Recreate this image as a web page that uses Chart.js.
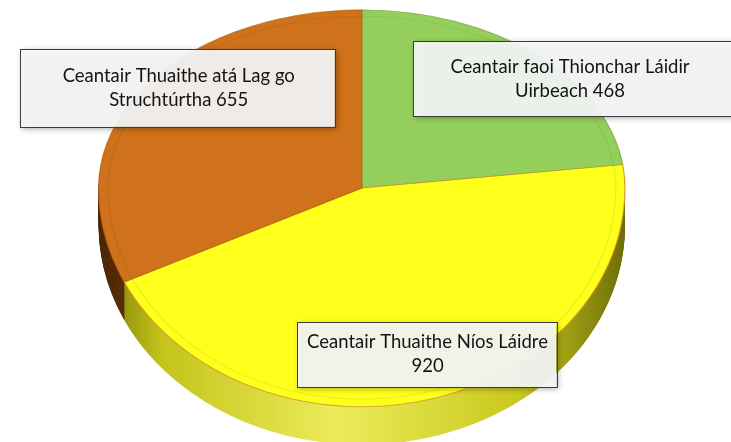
<!DOCTYPE html>
<html>
<head>
<meta charset="utf-8">
<script src="https://cdn.jsdelivr.net/npm/chart.js@4"></script>
<style>
  html, body { margin: 0; padding: 0; background: #fff; }
  #wrap { width: 731px; height: 442px; }
</style>
</head>
<body>
<div id="wrap"><canvas id="pieChart" width="731" height="442"></canvas></div>
<script>
// catagóirí agus luachanna (deiseal ón mbarr)
const categories = ['Ceantair faoi Thionchar Láidir Uirbeach', 'Ceantair Thuaithe Níos Láidre', 'Ceantair Thuaithe atá Lag go Struchtúrtha'];
const values = [468, 920, 655];
const topColors = ['#95cf5b', '#ffff1c', '#cf721b'];

// leagan amach na líníochta 3D (codáin den chanbhás); ryTop/ryBottom = peirspictíocht
const ellipse = { cx: 0.495, cy: 0.425, rx: 0.36, ryTop: 0.403, ryBottom: 0.495, depth: 38 };
// boscaí lipéad: x, y, leithead, airde (codáin den chanbhás)
const labelBoxes = [
  { x: 0.565, y: 0.093, w: 0.46, h: 0.17 },
  { x: 0.406, y: 0.728, w: 0.355, h: 0.148 },
  { x: 0.027, y: 0.111, w: 0.431, h: 0.176 }
];

// leath uachtair (0) nó íochtair (1) den éilips, le gearradh
function place(chart, dy, half) {
  const arc = chart.getDatasetMeta(0).data[0];
  const ctx = chart.ctx;
  const R = arc.outerRadius;
  const cy = Math.round(chart.height * ellipse.cy) + dy;
  ctx.beginPath();
  if (half === 0) ctx.rect(0, -1000, chart.width, cy + 1000);
  else ctx.rect(0, cy, chart.width, 2000);
  ctx.clip();
  const ry = half === 0 ? ellipse.ryTop : ellipse.ryBottom;
  ctx.translate(chart.width * ellipse.cx, cy);
  ctx.scale(chart.width * ellipse.rx / R, chart.height * ry / R);
  ctx.translate(-arc.x, -arc.y);
}

function sideGradient(ctx, arc, i) {
  const R = arc.outerRadius;
  const g = ctx.createLinearGradient(arc.x - R, 0, arc.x + R, 0);
  if (i === 2) {
    g.addColorStop(0, '#4a2604');
    g.addColorStop(0.2, '#80440c');
    g.addColorStop(1, '#9a5510');
  } else if (i === 1) {
    g.addColorStop(0, '#7a7a05');
    g.addColorStop(0.12, '#c4c41c');
    g.addColorStop(0.45, '#ecec5a');
    g.addColorStop(0.8, '#c8c81e');
    g.addColorStop(1, '#6e6e08');
  } else {
    g.addColorStop(0, '#4f7a25');
    g.addColorStop(1, '#5d8a2c');
  }
  return g;
}

function ring(ctx, arc) {
  ctx.beginPath();
  ctx.arc(arc.x, arc.y, arc.outerRadius * 0.965, 0, Math.PI * 2);
  ctx.strokeStyle = 'rgba(0,0,0,0.07)';
  ctx.lineWidth = 1;
  ctx.stroke();
}

const pie3d = {
  id: 'pie3d',
  beforeDatasetsDraw(chart) {
    const ctx = chart.ctx;
    const arcs = chart.getDatasetMeta(0).data;
    // taobh an tsorcóra
    for (let dy = ellipse.depth; dy > 0; dy -= 1) {
      [0, 1].forEach(half => {
        ctx.save();
        place(chart, dy, half);
        arcs.forEach((arc, i) => {
          const orig = arc.options;
          arc.options = Object.assign({}, orig, { backgroundColor: sideGradient(ctx, arc, i), borderWidth: 0 });
          arc.draw(ctx);
          arc.options = orig;
        });
        ctx.restore();
      });
    }
    // an leath uachtair den bharr
    ctx.save();
    place(chart, 0, 0);
    arcs.forEach(arc => arc.draw(ctx));
    ring(ctx, arcs[0]);
    ctx.restore();
    // an leath íochtair: tarraingíonn an leabharlann é
    ctx.save();
    place(chart, 0, 1);
  },
  afterDatasetsDraw(chart) {
    const ctx = chart.ctx;
    ring(ctx, chart.getDatasetMeta(0).data[0]);
    ctx.restore();
  },
  afterDraw(chart) {
    const ctx = chart.ctx;
    ctx.save();
    ctx.font = '18.5px Lato, "Open Sans", sans-serif';
    categories.forEach((cat, i) => {
      const b = labelBoxes[i];
      const x = b.x * chart.width, y = b.y * chart.height;
      const w = b.w * chart.width, h = b.h * chart.height;
      ctx.save();
      ctx.shadowColor = 'rgba(0,0,0,0.35)';
      ctx.shadowBlur = 6;
      ctx.shadowOffsetX = 2;
      ctx.shadowOffsetY = 2;
      ctx.fillStyle = 'rgba(246,247,249,0.93)';
      ctx.fillRect(x, y, w, h);
      ctx.restore();
      ctx.strokeStyle = '#3c3c3c';
      ctx.lineWidth = 1;
      ctx.strokeRect(Math.round(x) + 0.5, Math.round(y) + 0.5, Math.round(w), Math.round(h));

      // timfhilleadh téacs
      const words = (cat + ' ' + values[i]).split(' ');
      const lines = [];
      let line = '';
      const maxW = i === 0 ? 262 : (i === 1 ? w - 6 : w - 22);
      words.forEach(wd => {
        const test = line ? line + ' ' + wd : wd;
        if (ctx.measureText(test).width > maxW && line) { lines.push(line); line = wd; }
        else line = test;
      });
      lines.push(line);
      const cx = i === 0 ? x + 157 : (i === 1 ? x + w / 2 + 1 : x + 159);
      const lh = 24;
      const top = y + h / 2 - (lines.length - 1) * lh / 2;
      ctx.fillStyle = '#141414';
      ctx.textAlign = 'center';
      ctx.textBaseline = 'middle';
      lines.forEach((l, k) => ctx.fillText(l, cx, top + k * lh));
    });
    ctx.restore();
  }
};

const ctx = document.getElementById('pieChart').getContext('2d');
new Chart(ctx, {
  type: 'pie',
  data: {
    labels: categories,
    datasets: [{
      data: values,
      backgroundColor: topColors,
      borderColor: ['rgba(120,150,60,0.6)', 'rgba(210,140,40,0.7)', 'rgba(190,100,20,0.7)'],
      borderWidth: 1,
      clip: false
    }]
  },
  options: {
    responsive: false,
    animation: false,
    layout: { padding: 20 },
    plugins: {
      legend: { display: false },
      tooltip: { enabled: false }
    }
  },
  plugins: [pie3d]
});
</script>
</body>
</html>
